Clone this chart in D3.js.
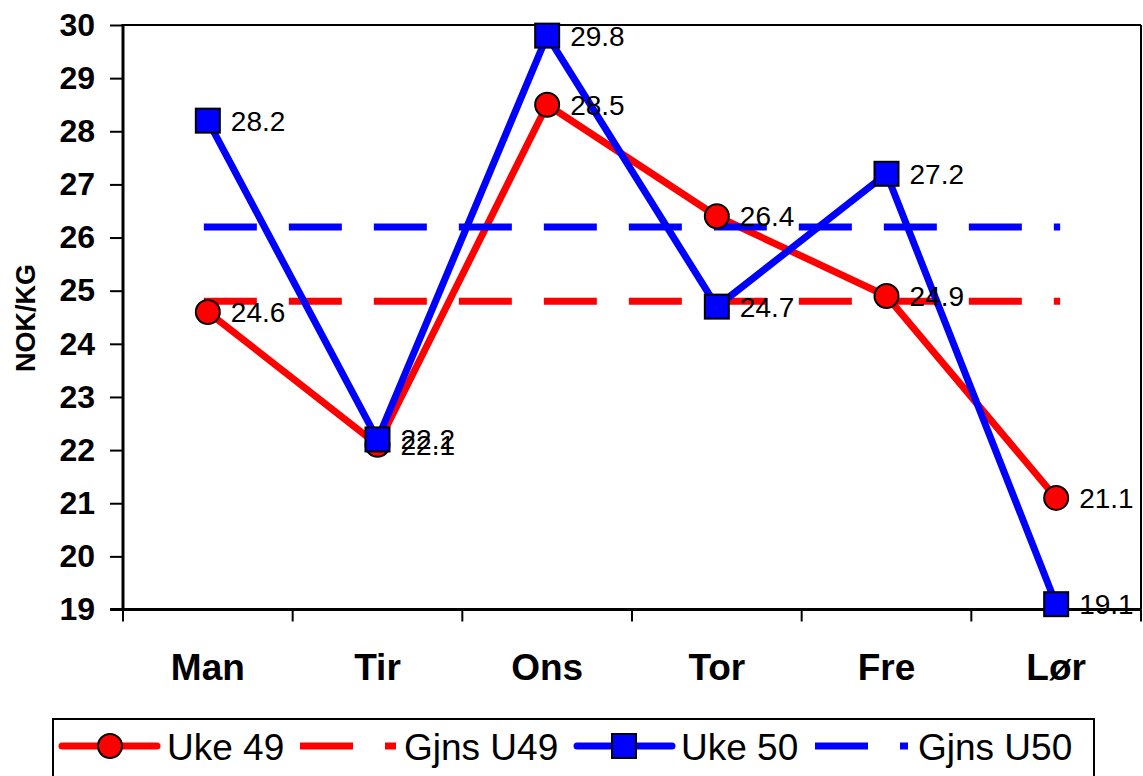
<!DOCTYPE html>
<html><head><meta charset="utf-8">
<script src="https://cdn.jsdelivr.net/npm/d3@7"></script>
<style>
html,body{margin:0;padding:0;background:#fff;}
svg{display:block;font-family:"Liberation Sans",Arial,sans-serif;}
</style></head>
<body>
<svg id="c" width="1143" height="776"></svg>
<script>
const categories = ["Man","Tir","Ons","Tor","Fre","Lør"];
const uke49 = [24.6, 22.1, 28.5, 26.4, 24.9, 21.1];
const uke50 = [28.2, 22.2, 29.8, 24.7, 27.2, 19.1];
const gjnsU49 = [24.8, 24.8, 24.8, 24.8, 24.8, 24.8];
const gjnsU50 = [26.2, 26.2, 26.2, 26.2, 26.2, 26.2];
const yTicks = [19, 20, 21, 22, 23, 24, 25, 26, 27, 28, 29, 30];
const seriesNames = ["Uke 49", "Gjns U49", "Uke 50", "Gjns U50"];
const yTitle = "NOK/KG";

const svg = d3.select("#c");
const L = 123, R = 1141, T = 25, B = 609.5;
const x = d3.scaleBand().domain(categories).range([L, R]);
const xc = c => x(c) + x.bandwidth() / 2;
const y = d3.scaleLinear().domain([19, 30]).range([B, T]);
const RED = "#ff0000", BLUE = "#0000ff";

// frame (top/right thin)
svg.append("line").attr("x1", L).attr("x2", R).attr("y1", T).attr("y2", T).attr("stroke", "#000").attr("stroke-width", 2);
svg.append("line").attr("x1", R).attr("x2", R).attr("y1", T).attr("y2", B).attr("stroke", "#000").attr("stroke-width", 2);

// y axis
const yAxis = d3.axisLeft(y).tickValues(yTicks).tickSize(13).tickPadding(15).tickFormat(d3.format("d"));
const gy = svg.append("g").attr("transform", `translate(${L},0)`).call(yAxis);
gy.select(".domain").remove();
gy.selectAll(".tick line").attr("stroke", "#000").attr("stroke-width", 2);
gy.selectAll(".tick text").attr("font-size", 32).attr("font-weight", "bold").attr("fill", "#000")
  .attr("font-family", "Liberation Sans, Arial, sans-serif");
svg.append("line").attr("x1", L).attr("x2", L).attr("y1", T - 1).attr("y2", B + 1.5).attr("stroke", "#000").attr("stroke-width", 3);

// x axis ticks at category boundaries
const bounds = categories.map(c => x(c)).concat([x(categories[categories.length - 1]) + x.bandwidth()]);
svg.selectAll(".xt").data(bounds).enter().append("line")
  .attr("x1", d => d).attr("x2", d => d).attr("y1", B).attr("y2", B + 12)
  .attr("stroke", "#000").attr("stroke-width", 2);
svg.append("line").attr("x1", L - 13).attr("x2", R).attr("y1", B).attr("y2", B).attr("stroke", "#000").attr("stroke-width", 3);
svg.selectAll(".xl").data(categories).enter().append("text")
  .attr("x", d => xc(d)).attr("y", 680).attr("text-anchor", "middle")
  .attr("font-size", 37).attr("font-weight", "bold").text(d => d);

// y title
svg.append("text").attr("transform", "translate(35,318) rotate(-90)").attr("text-anchor", "middle")
  .attr("font-size", 27).attr("font-weight", "bold").text(yTitle);

// lines
const line = d3.line().x((d, i) => xc(categories[i])).y(d => y(d));
const dashLine = d3.line().x((d, i) => xc(categories[i]) + (i === 0 ? -4 : i === categories.length - 1 ? 4 : 0)).y(d => y(d));

svg.append("path").datum(uke49).attr("d", line).attr("fill", "none").attr("stroke", RED).attr("stroke-width", 7).attr("stroke-linejoin", "round");
svg.append("path").datum(gjnsU49).attr("d", dashLine).attr("fill", "none").attr("stroke", RED).attr("stroke-width", 7).attr("stroke-dasharray", "53 32");
svg.append("path").datum(uke50).attr("d", line).attr("fill", "none").attr("stroke", BLUE).attr("stroke-width", 7).attr("stroke-linejoin", "round");
svg.append("path").datum(gjnsU50).attr("d", dashLine).attr("fill", "none").attr("stroke", BLUE).attr("stroke-width", 7).attr("stroke-dasharray", "53 32");

// markers
svg.selectAll(".m49").data(uke49).enter().append("circle")
  .attr("cx", (d, i) => xc(categories[i])).attr("cy", d => y(d)).attr("r", 12)
  .attr("fill", RED).attr("stroke", "#000").attr("stroke-width", 2);
svg.selectAll(".m50").data(uke50).enter().append("rect")
  .attr("x", (d, i) => xc(categories[i]) - 12).attr("y", d => y(d) - 12).attr("width", 24).attr("height", 24)
  .attr("fill", BLUE).attr("stroke", "#000").attr("stroke-width", 2);

// labels
const fmt = d3.format(".1f");
[uke49, uke50].forEach(s => {
  svg.selectAll(null).data(s).enter().append("text")
    .attr("x", (d, i) => xc(categories[i]) + 23).attr("y", d => y(d) + 10)
    .attr("font-size", 28).attr("fill", "#000").text(d => fmt(d));
});

// legend
const ly = 746;
svg.append("rect").attr("x", 53).attr("y", 719).attr("width", 1041).attr("height", 90).attr("fill", "#fff").attr("stroke", "#000").attr("stroke-width", 2);
const lg = svg.append("g");
lg.append("line").attr("x1", 62).attr("x2", 157).attr("y1", ly).attr("y2", ly).attr("stroke", RED).attr("stroke-width", 7).attr("stroke-linecap", "round");
lg.append("circle").attr("cx", 110).attr("cy", ly).attr("r", 12).attr("fill", RED).attr("stroke", "#000").attr("stroke-width", 2);
lg.append("line").attr("x1", 300).attr("x2", 396).attr("y1", ly).attr("y2", ly).attr("stroke", RED).attr("stroke-width", 7).attr("stroke-dasharray", "53 32");
lg.append("line").attr("x1", 577).attr("x2", 672).attr("y1", ly).attr("y2", ly).attr("stroke", BLUE).attr("stroke-width", 7).attr("stroke-linecap", "round");
lg.append("rect").attr("x", 612).attr("y", ly - 12).attr("width", 24).attr("height", 24).attr("fill", BLUE).attr("stroke", "#000").attr("stroke-width", 2);
lg.append("line").attr("x1", 815).attr("x2", 908).attr("y1", ly).attr("y2", ly).attr("stroke", BLUE).attr("stroke-width", 7).attr("stroke-dasharray", "53 32");
const lx = [167, 404, 681, 918];
seriesNames.forEach((n, i) => {
  lg.append("text").attr("x", lx[i]).attr("y", 760).attr("font-size", 37).text(n);
});
</script>
</body></html>
